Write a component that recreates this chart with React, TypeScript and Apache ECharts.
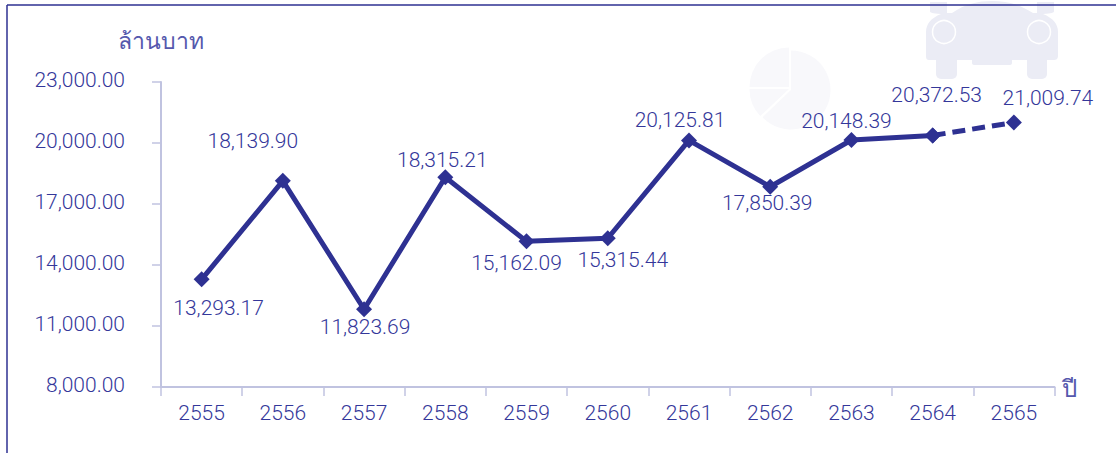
import React, { useEffect, useRef } from "react";
import * as echarts from "echarts";

const years = ["2555", "2556", "2557", "2558", "2559", "2560", "2561", "2562", "2563", "2564", "2565"];
const solidValues = [13293.17, 18139.9, 11823.69, 18315.21, 15162.09, 15315.44, 20125.81, 17850.39, 20148.39, 20372.53, null];
const dashedValues = [null, null, null, null, null, null, null, null, null, 20372.53, 21009.74];
const labelOffsets = [
  [17, 52], [-30, -16], [1, 41], [-3, 6], [-10, 45], [15, 45], [-9, 3], [-3, 40], [-5, 5], [4, -17], [34, -1],
];

const INK = "#2e3192";
const TEXT = "#34379a";
const THAI = "#5558ad";
const AXIS = "#c0c3e0";
const FONT = "Roboto, 'Noto Sans', sans-serif";
const CAR = "#ebecf5";
const PIE = "#f8f8fb";

echarts.graphic.registerShape(
  "carBody",
  echarts.graphic.extendPath(
    "M930 2 L947 2 L947 13 L952 13 C965 4 978 1 992 1 C1006 1 1019 4 1033 13 L1037 13 L1037 2 L1054 2 L1054 11 C1054 13 1052 13 1043 14 C1053 18 1058 24 1058 32 L1058 56 C1058 59 1056 60 1054 60 L1012 60 L1012 63 C1012 64 1011 65 1010 65 L974 65 C973 65 972 64 972 63 L972 60 L929 60 C927 60 926 59 926 56 L926 32 C926 24 931 18 941 14 C932 13 930 13 930 11 Z",
    {}
  )
);

export default function App() {
  const ref = useRef<HTMLDivElement>(null);
  useEffect(() => {
    if (!ref.current) return;
    const chart = echarts.init(ref.current, undefined, { renderer: "svg" });
    const labelOf = (i: number) => ({
      show: true,
      position: "top" as const,
      offset: labelOffsets[i],
      color: TEXT,
      fontSize: 21,
      fontWeight: 300,
      fontFamily: FONT,
      formatter: (p: any) =>
        Number(p.value).toLocaleString("en-US", { minimumFractionDigits: 2, maximumFractionDigits: 2 }),
    });
    chart.setOption({
      animation: false,
      backgroundColor: "#ffffff",
      grid: { left: 161, right: 61.5, top: 82, bottom: 66 },
      graphic: [
        { type: "carBody", silent: true, z: 0, style: { fill: CAR } },
        { type: "rect", silent: true, z: 0, shape: { x: 936, y: 55, width: 21, height: 24, r: 5 }, style: { fill: CAR } },
        { type: "rect", silent: true, z: 0, shape: { x: 1027, y: 55, width: 20, height: 24, r: 5 }, style: { fill: CAR } },
        { type: "circle", silent: true, z: 1, shape: { cx: 944, cy: 32, r: 11.5 }, style: { fill: CAR, stroke: "#ffffff", lineWidth: 1.5 } },
        { type: "circle", silent: true, z: 1, shape: { cx: 1039, cy: 32, r: 11.5 }, style: { fill: CAR, stroke: "#ffffff", lineWidth: 1.5 } },
        { type: "sector", silent: true, z: 0, shape: { cx: 791, cy: 90, r0: 0, r: 39.5, startAngle: -Math.PI / 2, endAngle: (Math.PI * 3) / 4 + 0.02 }, style: { fill: PIE } },
        { type: "sector", silent: true, z: 0, shape: { cx: 789, cy: 89, r0: 0, r: 39.5, startAngle: (Math.PI * 3) / 4 + 0.03, endAngle: Math.PI }, style: { fill: PIE } },
        { type: "sector", silent: true, z: 0, shape: { cx: 789, cy: 87, r0: 0, r: 39.5, startAngle: Math.PI, endAngle: (Math.PI * 3) / 2 }, style: { fill: PIE } },
        { type: "line", silent: true, z: 10, shape: { x1: 7, y1: 5, x2: 1116, y2: 5 }, style: { stroke: INK, lineWidth: 1.5 } },
        { type: "line", silent: true, z: 10, shape: { x1: 7, y1: 5, x2: 7, y2: 453 }, style: { stroke: INK, lineWidth: 1.5 } },
      ],
      xAxis: {
        type: "category",
        data: years,
        boundaryGap: true,
        name: "ปี",
        nameLocation: "end",
        nameGap: 7,
        nameTextStyle: { color: THAI, fontSize: 24, fontWeight: 200, fontFamily: "'Noto Sans', sans-serif", verticalAlign: "middle", padding: [0, 0, 6, 0] },
        axisLine: { show: true, lineStyle: { color: AXIS, width: 2 } },
        axisTick: { show: true, length: 9, alignWithLabel: false, lineStyle: { color: AXIS, width: 1.5 } },
        axisLabel: { color: TEXT, fontSize: 21, fontWeight: 300, fontFamily: FONT, margin: 15, interval: 0 },
        splitLine: { show: false },
      },
      yAxis: {
        type: "value",
        min: 8000,
        max: 23000,
        interval: 3000,
        name: "ล้านบาท",
        nameLocation: "end",
        nameGap: 31,
        nameTextStyle: { color: THAI, fontSize: 23, fontWeight: 200, fontFamily: "'Noto Sans', sans-serif", align: "center" },
        axisLine: { show: true, lineStyle: { color: AXIS, width: 2 } },
        axisTick: { show: true, length: 9, lineStyle: { color: AXIS, width: 1.5 } },
        axisLabel: {
          color: TEXT,
          fontSize: 21,
          fontWeight: 300,
          fontFamily: FONT,
          margin: 36,
          verticalAlign: "bottom",
          lineHeight: 4,
          formatter: (v: number) => v.toLocaleString("en-US", { minimumFractionDigits: 2, maximumFractionDigits: 2 }),
        },
        splitLine: { show: false },
      },
      series: [
        {
          type: "line",
          z: 3,
          data: dashedValues.map((v, i) => ({ value: v, label: i === 10 ? labelOf(i) : { show: false } })),
          connectNulls: false,
          symbol: "diamond",
          symbolSize: 16,
          lineStyle: { color: INK, width: 5, type: [13, 7] },
          itemStyle: { color: INK },
        },
        {
          type: "line",
          z: 4,
          data: solidValues.map((v, i) => ({ value: v, label: labelOf(i) })),
          connectNulls: false,
          symbol: "diamond",
          symbolSize: 16,
          lineStyle: { color: INK, width: 5 },
          itemStyle: { color: INK },
        },
      ],
    });
    return () => chart.dispose();
  }, []);
  return <div ref={ref} style={{ position: "fixed", left: 0, top: 0, width: 1116, height: 453 }} />;
}
